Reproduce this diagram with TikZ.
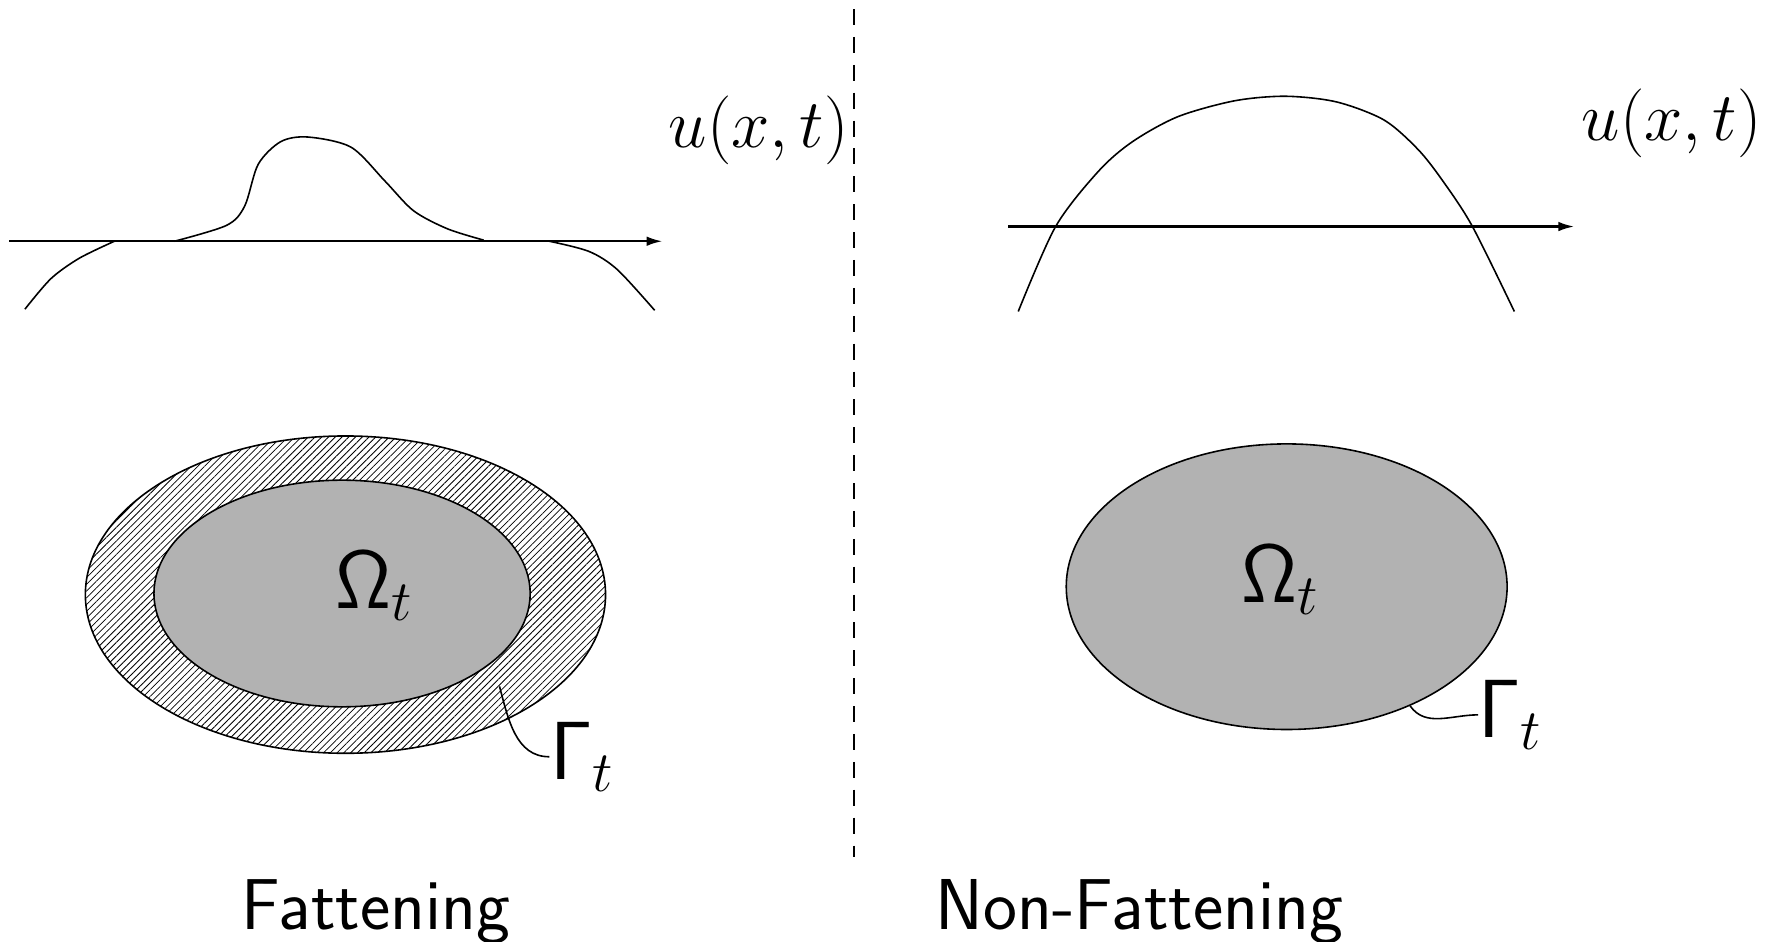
\documentclass[tikz,border=0pt]{standalone}
\usetikzlibrary{positioning, arrows.meta, shapes.geometric, patterns.meta}

\begin{document}
\begin{tikzpicture}[x=0.01cm, y=-0.01cm,
    curve/.style={line width=0.4pt},
    axis/.style={line width=0.6pt, -{Latex[length=4pt, width=2.4pt]}},
    region/.style={ellipse, draw, line width=0.4pt, fill=black!30, inner sep=0pt},
    ring/.style={region, pattern={Lines[angle=45, distance=1.2pt, line width=0.2pt]}},
    lbl/.style={inner sep=0pt, font=\fontsize{18.3}{22}\selectfont},
    sym/.style={inner sep=0pt, font=\fontsize{20}{24}\selectfont},
    caption/.style={inner sep=0pt, font=\fontsize{18.1}{22}\selectfont\sffamily}]
  \useasboundingbox (0,0) rectangle (1568,831);

  % divider
  \coordinate (divtop) at (754,8);
  \coordinate (divbot) at (754,757);
  \draw[dash pattern=on 4pt off 3pt, line width=0.4pt] (divtop) -- (divbot);

  % fattening: u(x,t) with flat pieces on the axis
  \coordinate (axLa) at (8,213);
  \coordinate (axLb) at (585,213);
  \draw[axis] (axLa) -- (axLb);
  \draw[curve] plot[smooth] coordinates {(22,273) (45,246) (70,228) (101,213)};
  \draw[curve] plot[smooth] coordinates {(154,213) (200,199) (216,182) (228,145) (248,125)
      (272,121) (310,130) (340,160) (365,186) (395,202) (427,212)};
  \draw[curve] plot[smooth] coordinates {(485,213) (520,222) (545,238) (578,274)};
  \node[lbl, anchor=base] (uL) at (670,130) {$u(x,t)$};

  % non-fattening: u(x,t) crosses the axis
  \coordinate (axRa) at (890,200);
  \coordinate (axRb) at (1390,200);
  \draw[axis] (axRa) -- (axRb);
  \draw[curve] plot[smooth] coordinates {(899,275) (932,200) (970,151) (1000,125) (1040,103)
      (1090,89) (1135,85) (1180,90) (1222,106) (1252,132) (1274,160) (1300,200) (1337,275)};
  \node[lbl, anchor=base] (uR) at (1476,124) {$u(x,t)$};

  % regions
  \node[ring, minimum width=4.59cm, minimum height=2.80cm] (outerL) at (305,525) {};
  \node[region, minimum width=3.32cm, minimum height=2.00cm] (innerL) at (302,524) {};
  \node[region, minimum width=3.89cm, minimum height=2.52cm] (ellR) at (1136,518) {};

  \node[sym, anchor=base] (omL) at (331,537) {$\mathsf{\Omega}_t$};
  \node[sym, anchor=base] (omR) at (1131,532) {$\mathsf{\Omega}_t$};
  \node[sym, anchor=base west] (gaL) at (485,688) {$\mathsf{\Gamma}_t$};
  \node[sym, anchor=base west] (gaR) at (1305,651) {$\mathsf{\Gamma}_t$};

  \coordinate (fatpt) at (441,606);
  \draw[curve] (fatpt) to[out=-75, in=180] (gaL.west);
  \draw[curve] (ellR.-44.5) to[out=-55, in=180] (gaR.west);

  % captions
  \node[caption, anchor=base] (capL) at (332,821) {Fattening};
  \node[caption, anchor=base] (capR) at (1006,821) {Non-Fattening};
\end{tikzpicture}
\end{document}
